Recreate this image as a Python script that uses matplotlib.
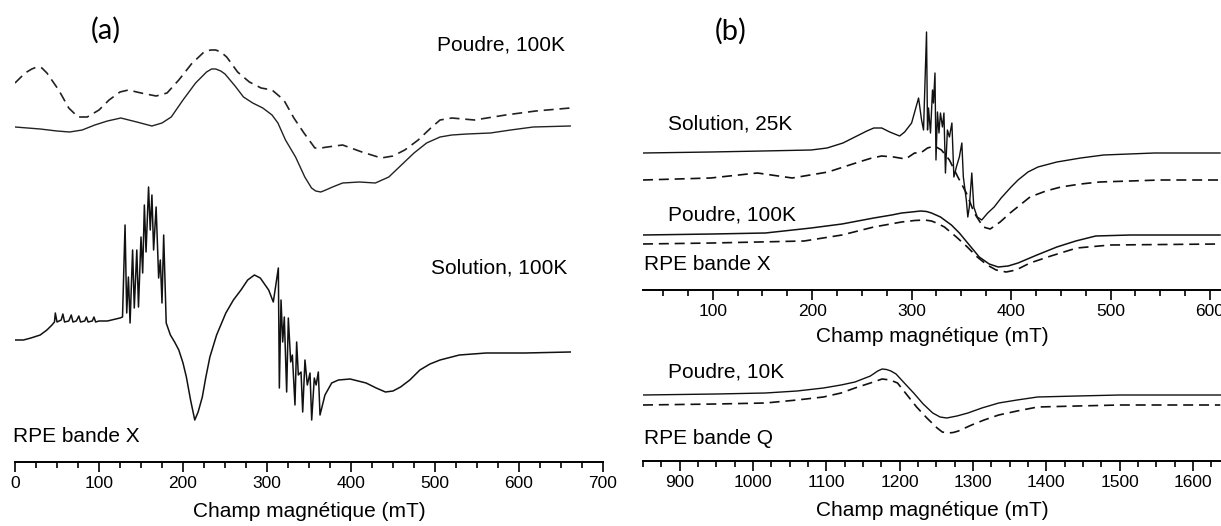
import matplotlib
matplotlib.use("Agg")
import matplotlib.pyplot as plt
from matplotlib.ticker import MultipleLocator

plt.rcParams['font.family'] = ['Liberation Sans', 'DejaVu Sans']

# ---- (a) RPE bande X, poudre 100K (solid = exp, dashed = sim)
a_pow_field = [0, 30, 50, 65, 80, 95, 110, 126, 145, 163, 175, 186, 200, 215, 228, 234, 239, 245,
               250, 262, 272, 283, 295, 306, 313, 322, 334, 345, 353, 358, 364, 370, 378, 390, 410,
               429, 445, 460, 475, 490, 506, 520, 538, 566, 590, 617, 661]
a_pow_exp = [0, -2, -4, -5, -3, 2, 6, 9, 5, 1, 4, 10, 27, 44, 55, 58, 58, 56, 53, 41, 30, 24, 19,
             12, 4, -13, -30, -50, -61, -64, -65, -63, -60, -56, -55, -56, -50, -38, -26, -16, -10,
             -8, -7, -6, -3, 0, 1]

a_pow_sim_field = [0, 12, 20, 26, 32, 38, 52, 64, 75, 86, 100, 112, 125, 135, 150, 168, 181, 195,
                   210, 225, 233, 239, 245, 252, 265, 279, 293, 306, 320, 332, 344, 357, 364, 372,
                   390, 413, 436, 450, 464, 480, 495, 506, 520, 547, 584, 620, 661]
a_pow_sim = [44, 54, 58, 60, 59, 54, 37, 19, 10, 10, 17, 27, 35, 37, 34, 31, 34, 47, 63, 75, 77,
             77, 75, 70, 55, 45, 39, 37, 27, 9, -6, -21, -21, -20, -18, -25, -31, -29, -23, -13,
             -1, 7, 9, 7, 12, 16, 19]

# ---- (a) solution 100K
a_sol_field = [0, 10, 19, 30, 38, 44, 47, 48, 50, 55, 57, 59, 64, 67, 69, 73, 76, 78, 83, 85, 87,
               92, 94, 96, 100, 110, 125, 128, 131, 133, 135, 137, 140, 142, 145, 147, 150, 152,
               154, 156, 159, 161, 163, 165, 168, 171, 173, 175, 177, 180, 185, 190, 195, 200, 204,
               209, 214, 218, 223, 227, 232, 240, 251, 260, 269, 277, 285, 292, 302, 307.5, 313.5,
               314.7, 316.7, 318.7, 320.6, 323.4, 325.4, 328.2, 330.2, 333.3, 335.3, 337.3, 340.5,
               342.5, 345.2, 348, 351.2, 353.2, 356.3, 358.5, 361.1, 363.1, 369, 377, 385, 399,
               418, 430, 441, 450, 459, 470, 482, 494, 506, 529, 561, 607, 661]
a_sol = [0, 0, 2, 5, 10, 15, 18, 27, 18, 20, 26, 18, 19, 25, 18, 19, 24, 18, 19, 23, 18, 19, 23,
         18, 19, 19, 22, 23, 115, 27, 63, 17, 90, 32, 90, 33, 103, 67, 135, 88, 153, 110, 145, 90,
         133, 62, 80, 37, 105, 17, 5, -2, -10, -23, -37, -60, -80, -72, -57, -38, -17, 5, 27, 40,
         50, 60, 65, 62, 50, 38, 72, -48, 40, -2, 23, -52, 22, -22, -15, -65, -2, -35, -32, -72,
         -20, -45, -33, -80, -38, -45, -32, -75, -55, -43, -40, -39, -43, -48, -52, -51, -47, -40,
         -30, -24, -20, -15, -13, -13, -12]

# ---- (b) RPE bande X, solution 25K
b_sol_field = [30, 98, 150, 199, 215, 231, 247, 255, 262, 270, 278, 288, 293, 300, 307, 310, 312,
               315, 316, 317, 319, 321, 322, 323.5, 324.5, 326, 327.5, 329, 331, 332.5, 334, 336,
               338, 340.5, 342.5, 345, 348, 350.5, 352, 355, 356.5, 358, 360.5, 362.5, 366, 370.5,
               376.5, 383, 390, 400, 407, 417, 427, 446, 470, 493, 544, 610]
b_sol_exp = [0, 1, 2, 3, 5, 10, 18, 22, 25, 25, 21, 17, 21, 30, 55, 33, 23, 121, 23, 45, 20, 63,
             50, 80, -7, 41, 20, 40, 26, 40, -20, 23, 16, 30, -24, -14, -4, 10, -24, -47, -64, -54,
             -20, -54, -64, -67, -60, -54, -45, -34, -27, -19, -14, -9, -5, -2, 0, 0]

b_sol_sim_field = [30, 98, 145, 180, 216, 247, 260, 270, 282, 294, 303, 309, 316, 323, 330, 338,
                   346.5, 355, 363, 372, 379, 389, 399, 419, 435, 450, 470, 489, 550, 610]
b_sol_sim = [0, 2, 7, 2, 8, 18, 22, 24, 23, 21, 27, 27, 32, 34, 30, 20, 3, -13, -33, -47, -49,
             -42, -33, -17, -11, -7, -4, -2, 0, 0]

# ---- (b) RPE bande X, poudre 100K
b_pow_field = [30, 100, 153, 199, 230, 262, 280, 290, 300, 309, 315, 320, 329, 340, 348, 358, 368,
               378, 387, 397, 407, 426, 446, 465, 485, 520, 610]
b_pow_exp = [0, 1, 2, 7, 11, 17, 20, 22, 23, 24, 23.5, 22, 18, 10, 2, -10, -22, -29, -32, -31, -28,
             -20, -12, -6, -1, 0, 0]

b_pow_sim_field = [30, 100, 192, 230, 262, 290, 303, 313, 320, 325, 333, 345, 356, 366, 376, 385,
                   395, 405, 419, 440, 466, 500, 610]
b_pow_sim = [0, 1, 3, 9, 17, 22, 23.5, 24, 23, 21, 17, 7, -3, -13, -21, -26, -28, -26, -19, -12,
             -4, -1, 0]

# ---- (b) RPE bande Q, poudre 10K
q_field = [850, 950, 1017, 1060, 1096, 1120, 1139, 1160, 1170, 1176, 1182, 1188, 1195, 1205, 1219,
           1232, 1245, 1255, 1264, 1278, 1293, 1312, 1335, 1360, 1388, 1442, 1500, 1637]
q_exp = [0, 1, 2, 4, 7, 10, 13, 19, 24, 26, 25.5, 24, 21, 13, 2, -9, -18, -22, -23, -21, -18, -13,
         -8, -5, -2, -1, 0, 0]

q_sim_field = [850, 950, 1017, 1060, 1096, 1120, 1139, 1160, 1176, 1187, 1197, 1210, 1223, 1237,
               1251, 1258, 1266, 1273, 1280, 1298, 1315, 1335, 1360, 1388, 1442, 1500, 1637]
q_sim = [0, 1, 2, 5, 8, 12, 17, 22, 26, 25, 22, 10, -2, -13, -23, -27, -28, -27.5, -26, -20, -15,
         -10, -6, -2, -1, 0, 0]

W, H = 1221, 526
fig = plt.figure(figsize=(W / 100, H / 100), dpi=100)

DASH = (0, (6, 3.5))
LW = 1.0


def setup(ax, xlim, ylim, xlabel, labelpad):
    ax.set_xlim(*xlim)
    ax.set_ylim(*ylim)
    for s in ("left", "right", "top"):
        ax.spines[s].set_visible(False)
    ax.spines["bottom"].set_linewidth(1.4)
    ax.set_yticks([])
    ax.xaxis.set_major_locator(MultipleLocator(100))
    ax.xaxis.set_minor_locator(MultipleLocator(25))
    ax.tick_params(axis="x", which="major", direction="out", length=7, width=1.2,
                   labelsize=12.5, pad=3)
    ax.tick_params(axis="x", which="minor", direction="out", length=4, width=1.2)
    ax.set_xlabel(xlabel, fontsize=15, labelpad=labelpad)
    ax.patch.set_visible(False)


def shift(vals, off):
    return [v + off for v in vals]


xlab = "Champ magnétique (mT)"

# panel (a)
ax_a = fig.add_axes([15 / W, 64 / H, 588 / W, 452 / H])
setup(ax_a, (0, 700), (0, 452), xlab, 8)
ax_a.plot(a_pow_field, shift(a_pow_exp, 335), color="#222222", lw=LW)
ax_a.plot(a_pow_sim_field, shift(a_pow_sim, 335), color="#222222", lw=1.2, ls=DASH)
ax_a.plot(a_sol_field, shift(a_sol, 122), color="#111111", lw=1.1)

# panel (b) X band
ax_b = fig.add_axes([643 / W, 236 / H, 578 / W, 280 / H])
setup(ax_b, (30, 611), (0, 280), xlab, 6)
ax_b.plot(b_sol_field, shift(b_sol_exp, 137), color="#111111", lw=LW)
ax_b.plot(b_sol_sim_field, shift(b_sol_sim, 110), color="#111111", lw=1.2, ls=DASH)
ax_b.plot(b_pow_field, shift(b_pow_exp, 55), color="#111111", lw=1.1)
ax_b.plot(b_pow_sim_field, shift(b_pow_sim, 46), color="#111111", lw=1.2, ls=DASH)

# panel (b) Q band
ax_q = fig.add_axes([643 / W, 65 / H, 578 / W, 106 / H])
setup(ax_q, (850, 1638), (0, 106), xlab, 8)
ax_q.plot(q_field, shift(q_exp, 66), color="#111111", lw=LW)
ax_q.plot(q_sim_field, shift(q_sim, 56), color="#111111", lw=1.2, ls=DASH)


def label(x, y, s, ha="left", size=15, family=None):
    kw = {}
    if family:
        kw["family"] = family
    fig.text(x / W, 1 - y / H, s, ha=ha, va="center", fontsize=size, **kw)


label(106, 30, "(a)", ha="center", size=21, family=["Lato", "DejaVu Sans"])
label(731, 31, "(b)", ha="center", size=21, family=["Lato", "DejaVu Sans"])
label(565, 45, "Poudre, 100K", ha="right")
label(567, 268, "Solution, 100K", ha="right")
label(13, 436, "RPE bande X")
label(668, 124, "Solution, 25K")
label(668, 215, "Poudre, 100K")
label(644, 265, "RPE bande X")
label(668, 372, "Poudre, 10K")
label(644, 438, "RPE bande Q")

fig.savefig("out.png", dpi=100)
